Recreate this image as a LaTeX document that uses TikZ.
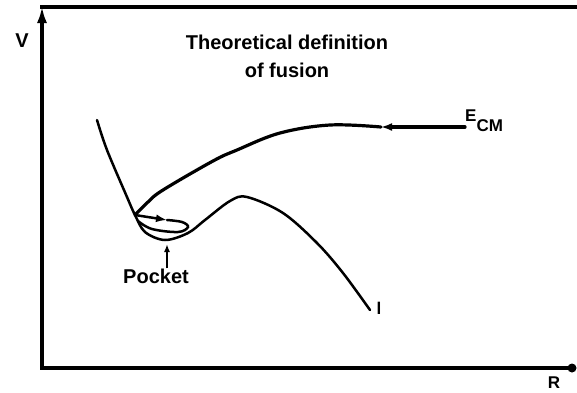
\documentclass[tikz,border=0pt]{standalone}
\usepackage{fontspec}
\setmainfont{Liberation Sans}
\usetikzlibrary{arrows.meta}
\begin{document}
\begin{tikzpicture}[
        x=1pt, y=-1pt,
        axis/.style={line width=3.4pt},
        potential/.style={line width=2.5pt, line cap=round},
        trajectory/.style={line width=3.2pt, line cap=round},
        tip/.style={-{Latex[length=11pt, width=8pt]}},
        lettering/.style={font=\bfseries\fontsize{20}{28}\selectfont, inner sep=0pt}
    ]
        \useasboundingbox (0,0) rectangle (577,392);

        % Frame with V axis (left) and R axis (bottom)
        \coordinate (origin) at (42,368);
        \coordinate (v_tip) at (42,6);
        \coordinate (top_end) at (577,7);
        \coordinate (r_end) at (572,368);
        \draw[axis, -{Latex[length=17pt, width=10pt]}] (origin) -- (v_tip);
        \draw[axis] ([xshift=-1.7pt]v_tip |- top_end) -- (top_end);
        \draw[line width=4.5pt] ([xshift=-1.7pt]origin) -- (r_end);
        \fill (r_end) circle (4.5pt);
        \node[lettering] (v_label) at (22,41) {V};
        \node[lettering, font=\bfseries\fontsize{17}{20}\selectfont] (r_label) at (554,383) {R};

        % Title
        \node[lettering, align=center] (title) at (287,56) {Theoretical definition\\of fusion};

        % Potential curve with pocket
        \coordinate (well) at (135,215);
        \draw[potential] plot[smooth, tension=0.55] coordinates {
            (97,120) (107,150) (127,197) (well) (145,232) (165,240) (188,233)
            (205,220) (230,201) (247,197) (283,213) (317,243) (343,273) (370,310)};
        \node[lettering, font=\bfseries\fontsize{17}{20}\selectfont] (l_label) at (379,308) {l};

        % Trajectory coming in at E_CM
        \node[lettering, anchor=west, font=\bfseries\fontsize{17}{20}\selectfont] (ecm_label) at (465,121) {E\raisebox{-1.1ex}{CM}};
        \coordinate (ecm_arrow) at (381,127);
        \draw[trajectory, tip] (ecm_label.west |- ecm_arrow) -- (ecm_arrow);
        \draw[trajectory] plot[smooth, tension=0.6] coordinates {
            (ecm_arrow) (330,125) (280,133) (237,150) (213,161) (163,190) (148,202) (well)};

        % Loop trapped in the pocket
        \coordinate (loop_arrow) at (167,220);
        \draw[potential, tip] (well) -- (loop_arrow);
        \draw[potential] plot[smooth, tension=0.6] coordinates {
            (loop_arrow) (182,222) (188,227) (178,232) (152,229) (138,221)};

        % Pocket marker
        \node[lettering] (pocket_label) at (156,276) {Pocket};
        \coordinate (pocket_tip) at (167,244);
        \draw[line width=2pt, -{Latex[length=8pt, width=6pt]}] (pocket_label.north -| pocket_tip) -- (pocket_tip);
\end{tikzpicture}
\end{document}
